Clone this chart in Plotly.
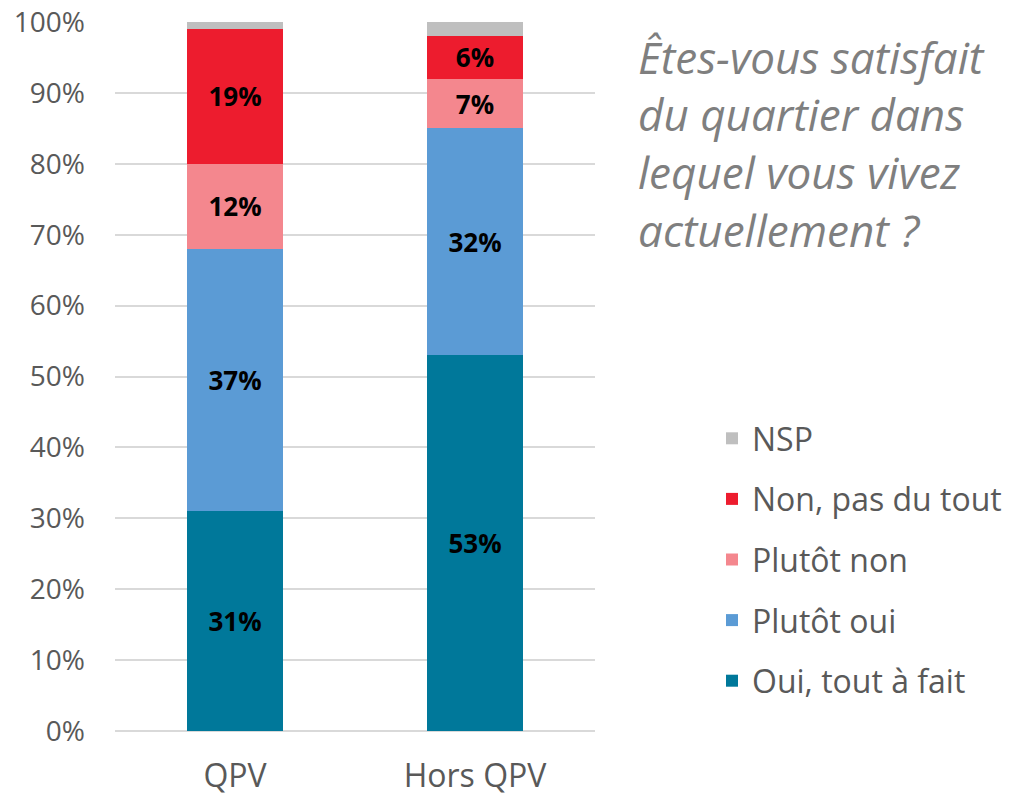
import plotly.graph_objects as go

categories = ["QPV", "Hors QPV"]
series_names = ["Oui, tout à fait", "Plutôt oui", "Plutôt non", "Non, pas du tout", "NSP"]
oui_tout_a_fait = [31, 53]
plutot_oui = [37, 32]
plutot_non = [12, 7]
non_pas_du_tout = [19, 6]
nsp = [1, 2]
colors = ["#00789A", "#5B9BD5", "#F4878E", "#ED1C2E", "#BFBFBF"]
tick_vals = [0, 10, 20, 30, 40, 50, 60, 70, 80, 90, 100]
tick_text = [f"{v}%" for v in tick_vals]
title_lines = ["Êtes-vous satisfait", "du quartier dans", "lequel vous vivez", "actuellement ?"]

FONT = "Open Sans"
series_values = [oui_tout_a_fait, plutot_oui, plutot_non, non_pas_du_tout, nsp]

fig = go.Figure()
for i, (name, vals, col) in enumerate(zip(series_names, series_values, colors)):
    show_text = name != "NSP"
    fig.add_trace(go.Bar(
        x=categories, y=vals, name=name,
        marker=dict(color=col, line=dict(width=0)),
        text=[f"{v}%" for v in vals] if show_text else None,
        textposition="inside" if show_text else "none",
        insidetextanchor="middle",
        constraintext="none",
        textfont=dict(family=FONT, size=26, color="black", weight="bold"),
        legendgroup=name,
        legendrank=len(series_names) - i,
        hoverinfo="skip",
    ))

OFF = 0  # body margin removed below
W, H = 1010, 795
ml, mr, mt, mb = 115 - OFF, W - (595 - OFF), 22 - OFF, H - (731 - OFF)
pw = W - ml - mr
ph = H - mt - mb

def px(x):
    return (x - OFF - ml) / pw

def py(y):
    return (H - mb - (y - OFF)) / ph

annotations = []
line_centers = [57, 114, 172, 230]
for txt, yc in zip(title_lines, line_centers):
    annotations.append(dict(
        text=txt, xref="paper", yref="paper",
        x=px(636), y=py(yc),
        xanchor="left", yanchor="middle", showarrow=False, align="left",
        font=dict(family=FONT, size=44, color="#7F7F7F", style="italic"),
    ))

fig.update_layout(
    width=W, height=H,
    margin=dict(l=ml, r=mr, t=mt, b=mb, autoexpand=False),
    barmode="stack", bargap=0.6,
    plot_bgcolor="white", paper_bgcolor="white",
    font=dict(family=FONT, color="#595959"),
    showlegend=True,
    legend=dict(
        x=px(712), y=py(411),
        xanchor="left", yanchor="top",
        traceorder="grouped", tracegroupgap=16,
        font=dict(family=FONT, size=32, color="#595959"),
        bgcolor="rgba(0,0,0,0)",
    ),
    annotations=annotations,
    xaxis=dict(
        showline=False, showgrid=False, ticks="",
        tickfont=dict(family=FONT, size=32, color="#595959"),
        ticklabelstandoff=23,
    ),
    yaxis=dict(
        range=[0, 100], tickvals=tick_vals, ticktext=tick_text,
        showgrid=True, gridcolor="#D9D9D9", gridwidth=1.5,
        zeroline=True, zerolinecolor="#D9D9D9", zerolinewidth=1.5,
        showline=False, ticks="",
        tickfont=dict(family=FONT, size=28, color="#595959"),
        ticklabelstandoff=29,
        ticklabeloverflow="allow",
    ),
)

fig.write_html("out.html", config={"displayModeBar": False},
               post_script="document.body.style.margin='0';")
